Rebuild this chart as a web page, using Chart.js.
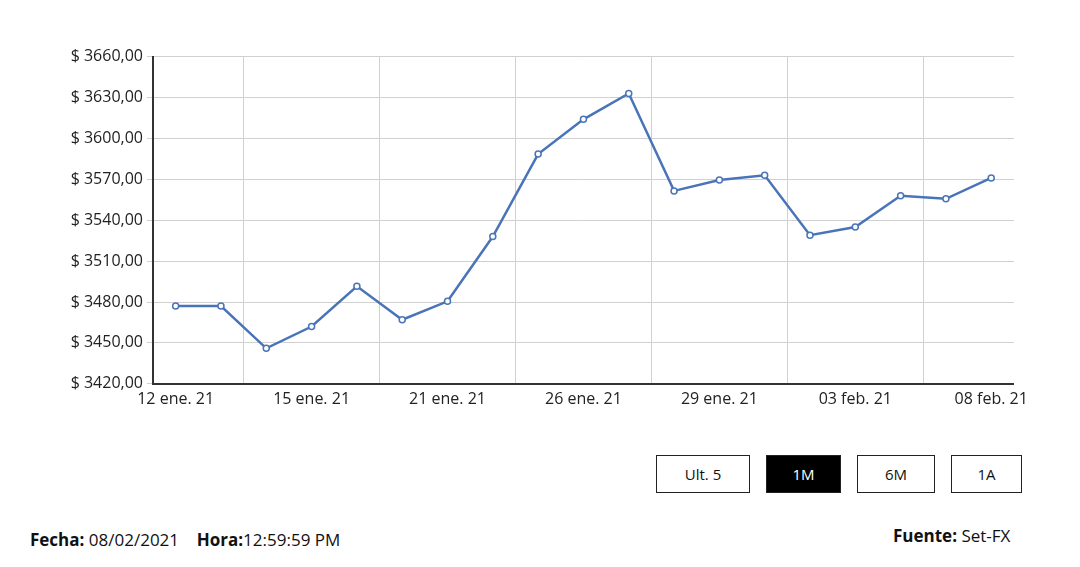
<!DOCTYPE html>
<html>
<head>
<meta charset="utf-8">
<script src="https://cdn.jsdelivr.net/npm/chart.js@4"></script>
<style>
  body { margin: 0; width: 1080px; height: 567px; background: #fff; font-family: "Open Sans", sans-serif; color: #111; position: relative; overflow: hidden; }
  #wrap { position: absolute; left: 30px; top: 43px; width: 1004px; height: 372px; }
  .btn { position: absolute; top: 455px; height: 38px; border: 1px solid #222; box-sizing: border-box; font-size: 15px; display: flex; align-items: center; justify-content: center; background: #fff; }
  .btn.on { background: #000; color: #fff; }
  .foot { position: absolute; font-size: 17px; }
</style>
</head>
<body>
<div id="wrap"><canvas id="chart"></canvas></div>
<div class="btn" style="left:656px;width:94px">Ult. 5</div>
<div class="btn on" style="left:766px;width:75px">1M</div>
<div class="btn" style="left:857px;width:78px">6M</div>
<div class="btn" style="left:951px;width:71px">1A</div>
<div class="foot" style="left:30px;top:528px"><b>Fecha:</b> 08/02/2021 &nbsp;&nbsp; <b>Hora:</b>12:59:59 PM</div>
<div class="foot" style="left:893px;top:524px"><b>Fuente:</b> Set-FX</div>
<script>
const labels = ["12 ene. 21", "13 ene. 21", "14 ene. 21", "15 ene. 21", "18 ene. 21", "19 ene. 21",
  "21 ene. 21", "22 ene. 21", "25 ene. 21", "26 ene. 21", "27 ene. 21", "28 ene. 21",
  "29 ene. 21", "01 feb. 21", "02 feb. 21", "03 feb. 21", "04 feb. 21", "05 feb. 21", "08 feb. 21"];
const prices = [3477, 3477, 3446, 3462, 3491.5, 3467, 3480.5, 3528, 3588.5, 3614, 3633,
  3561.5, 3569.5, 3573, 3529, 3535, 3558, 3555.7, 3571];
const fmt = v => "$ " + v.toFixed(2).replace(".", ",");

new Chart(document.getElementById("chart"), {
  type: "line",
  data: {
    labels,
    datasets: [{
      data: prices,
      borderColor: "#4a74b8",
      borderWidth: 2.5,
      pointBackgroundColor: "#fff",
      pointBorderColor: "#4a74b8",
      pointBorderWidth: 1.5,
      pointRadius: 3,
      tension: 0
    }]
  },
  options: {
    responsive: true,
    maintainAspectRatio: false,
    animation: false,
    plugins: { legend: { display: false }, tooltip: { enabled: false } },
    scales: {
      x: {
        offset: true,
        grid: { offset: true, color: "#d0d0d0", drawTicks: false },
        border: { color: "#333", width: 2 },
        ticks: {
          autoSkip: false,
          maxRotation: 0,
          padding: 6,
          color: "#222",
          font: { family: "Open Sans", size: 16 },
          callback: (v, i) => i % 3 === 0 ? labels[i] : null
        }
      },
      y: {
        min: 3420, max: 3660,
        afterFit: s => { s.width = 123; },
        grid: { color: "#d0d0d0", tickLength: 6 },
        border: { color: "#333", width: 2 },
        ticks: { stepSize: 30, padding: 4, color: "#222", font: { family: "Open Sans", size: 16 }, callback: v => fmt(v) }
      }
    }
  }
});
</script>
</body>
</html>
